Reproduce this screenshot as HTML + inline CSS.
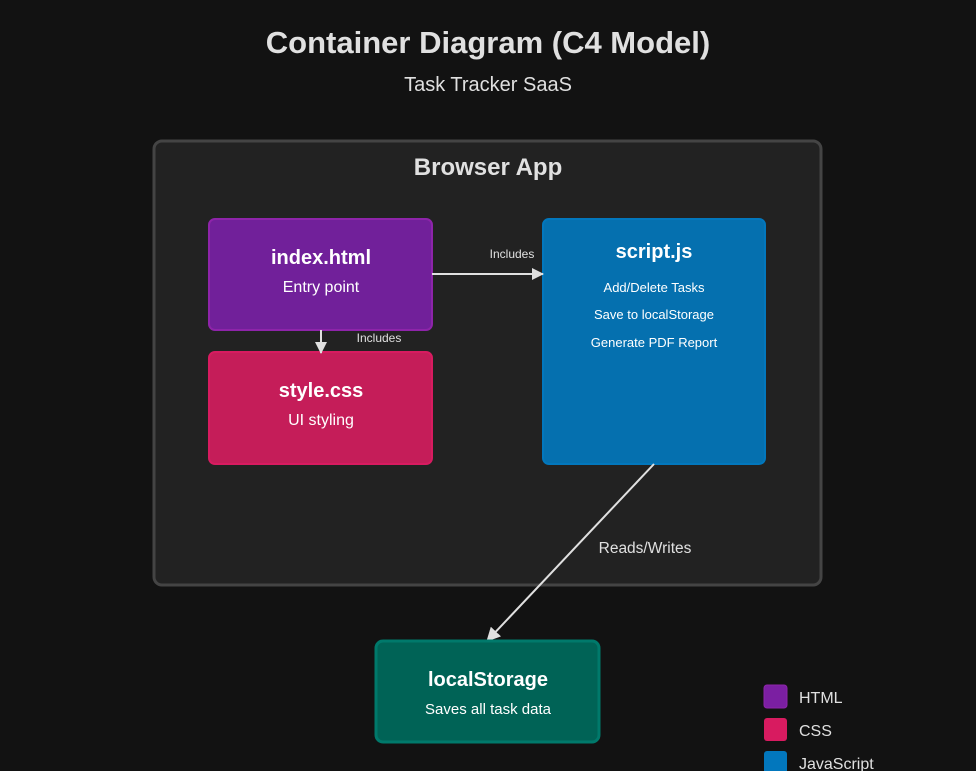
<!DOCTYPE html>
<html><head><meta charset="utf-8"><style>
html,body{margin:0;padding:0;background:#121212;}
svg{display:block;font-family:"Liberation Sans",Arial,sans-serif;}
</style></head><body>
<svg width="976" height="771" viewBox="0 0 976 771" xmlns="http://www.w3.org/2000/svg">
<defs>
<marker id="a" markerWidth="12" markerHeight="12" refX="11" refY="6" orient="auto" markerUnits="userSpaceOnUse">
<path d="M0,0 L12,6 L0,12 z" fill="#e0e0e0"/></marker>
<marker id="b" markerWidth="14" markerHeight="14" refX="13" refY="7" orient="auto" markerUnits="userSpaceOnUse">
<path d="M0,0 L14,7 L0,14 z" fill="#e0e0e0"/></marker>
</defs>
<rect width="976" height="771" fill="#121212"/>
<text x="488" y="53" text-anchor="middle" font-size="31" font-weight="bold" fill="#e0e0e0">Container Diagram (C4 Model)</text>
<text x="488" y="91" text-anchor="middle" font-size="20" fill="#e0e0e0">Task Tracker SaaS</text>

<rect x="154" y="141" width="667" height="444" rx="8" fill="#222" stroke="#444" stroke-width="3"/>
<text x="488" y="175" text-anchor="middle" font-size="24" font-weight="bold" fill="#e0e0e0">Browser App</text>

<rect x="209" y="219" width="223" height="111" rx="6" fill="#71209a" stroke="#8e24aa" stroke-width="2"/>
<text x="321" y="264" text-anchor="middle" font-size="20" font-weight="bold" fill="#fff">index.html</text>
<text x="321" y="292" text-anchor="middle" font-size="16" fill="#fff">Entry point</text>

<rect x="209" y="352" width="223" height="112" rx="6" fill="#c51d59" stroke="#d81b60" stroke-width="2"/>
<text x="321" y="397" text-anchor="middle" font-size="20" font-weight="bold" fill="#fff">style.css</text>
<text x="321" y="425" text-anchor="middle" font-size="16" fill="#fff">UI styling</text>

<rect x="543" y="219" width="222" height="245" rx="6" fill="#0570af" stroke="#0277bd" stroke-width="2"/>
<text x="654" y="258" text-anchor="middle" font-size="20" font-weight="bold" fill="#fff">script.js</text>
<text x="654" y="292" text-anchor="middle" font-size="13" fill="#fff">Add/Delete Tasks</text>
<text x="654" y="319" text-anchor="middle" font-size="13" fill="#fff">Save to localStorage</text>
<text x="654" y="347" text-anchor="middle" font-size="13" fill="#fff">Generate PDF Report</text>

<line x1="432" y1="274" x2="543" y2="274" stroke="#e0e0e0" stroke-width="2" marker-end="url(#a)"/>
<text x="512" y="258" text-anchor="middle" font-size="12" fill="#e0e0e0">Includes</text>
<line x1="321" y1="330" x2="321" y2="353" stroke="#e0e0e0" stroke-width="2" marker-end="url(#a)"/>
<text x="379" y="342" text-anchor="middle" font-size="12" fill="#e0e0e0">Includes</text>

<line x1="654" y1="464" x2="487" y2="641" stroke="#e0e0e0" stroke-width="2" marker-end="url(#b)"/>
<text x="645" y="553" text-anchor="middle" font-size="15.5" fill="#e0e0e0">Reads/Writes</text>

<rect x="376" y="641" width="223" height="101" rx="7" fill="#006356" stroke="#00796b" stroke-width="3"/>
<text x="488" y="686" text-anchor="middle" font-size="20" font-weight="bold" fill="#fff">localStorage</text>
<text x="488" y="714" text-anchor="middle" font-size="15" fill="#fff">Saves all task data</text>

<rect x="764" y="685" width="23" height="23" rx="3" fill="#7b1fa2" stroke="#8e24aa" stroke-width="1"/>
<text x="799" y="703" font-size="16" fill="#e0e0e0">HTML</text>
<rect x="764" y="718" width="23" height="23" rx="3" fill="#d81b60"/>
<text x="799" y="736" font-size="16" fill="#e0e0e0">CSS</text>
<rect x="764" y="751" width="23" height="23" rx="3" fill="#0277bd"/>
<text x="799" y="769" font-size="16" fill="#e0e0e0">JavaScript</text>
</svg>
</body></html>
